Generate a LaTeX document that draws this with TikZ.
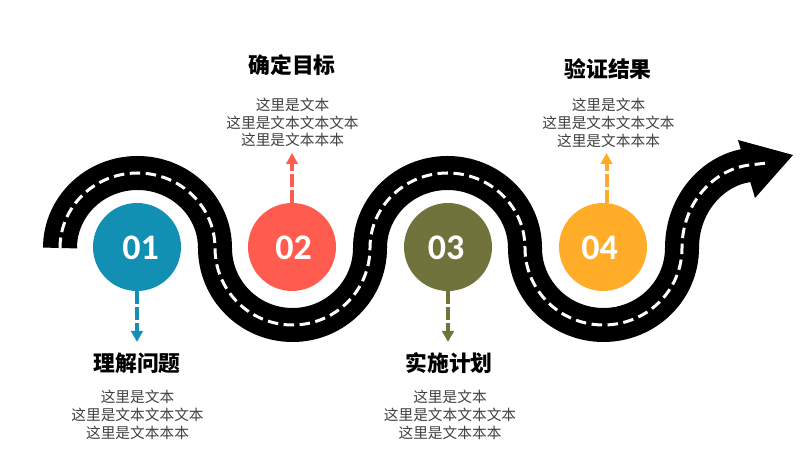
\documentclass[tikz,border=0pt]{standalone}
\usepackage{fontspec}
\setmainfont{Carlito}
\newfontfamily\cjk{Noto Sans CJK SC}
\usetikzlibrary{arrows.meta}
\definecolor{stepblue}{HTML}{1190B4}
\definecolor{stepred}{HTML}{FF5C50}
\definecolor{stepolive}{HTML}{70743C}
\definecolor{steporange}{HTML}{FFAC29}
\definecolor{bodygray}{HTML}{404040}

\begin{document}
\begin{tikzpicture}[x=1pt,y=1pt,
            >={Triangle[length=11pt,width=11.5pt]},
            disc/.style={circle,minimum size=88pt,inner sep=0pt},
            num/.style={inner sep=0pt,text=white,font=\fontsize{36}{36}\selectfont\bfseries},
            title/.style={inner sep=0pt,text=black,font=\cjk\fontsize{21.8}{26}\selectfont\bfseries},
            body/.style={inner sep=0pt,align=center,text=bodygray,font=\cjk\fontsize{14.7}{17.8}\selectfont},
            lead/.style={->,line width=4pt,dash pattern=on 12.5pt off 3.5pt},
        ]
        \useasboundingbox (0,0) rectangle (800,465);
        % road, centre line
        \def\roadpath{(60,217) arc[start angle=180,end angle=0,x radius=77.5,y radius=75]
            arc[start angle=180,end angle=360,x radius=77.5,y radius=77]
            arc[start angle=180,end angle=0,x radius=77.5,y radius=75]
            arc[start angle=180,end angle=360,x radius=78.5,y radius=77]
            .. controls (682,262) and (714,296) .. (750,300)}
        \draw[line width=34pt,black] \roadpath;
        \fill[black] (738,325) -- (793,310) -- (755,267) -- cycle;
        \draw[line width=3pt,white,dash pattern=on 10.5pt off 5.5pt] \roadpath -- (767,302);
        % discs
        \node[disc,fill=stepblue] (d1) at (137,218) {};
        \node[disc,fill=stepred] (d2) at (292,218) {};
        \node[disc,fill=stepolive] (d3) at (448,218) {};
        \node[disc,fill=steporange] (d4) at (603,218) {};
        \node[num] (n1) at (140.5,217) {01};
        \node[num] (n2) at (293.5,217) {02};
        \node[num] (n3) at (446,217) {03};
        \node[num] (n4) at (599.5,217) {04};
        % arrow ends
        \coordinate (e1) at (137,123);
        \coordinate (e2) at (292,312);
        \coordinate (e3) at (448,123);
        \coordinate (e4) at (606.5,312);
        \draw[lead,stepblue] (d1.south) -- (e1);
        \draw[lead,stepred] (d2.north) -- (e2);
        \draw[lead,stepolive] (d3.south) -- (e3);
        \draw[lead,steporange] (606.5,262) -- (e4);
        % texts
        \node[title] (t1) at (137,102) {理解问题};
        \node[title] (t2) at (292,400) {确定目标};
        \node[title] (t3) at (449,102) {实施计划};
        \node[title] (t4) at (608,396) {验证结果};
        \node[body] (b1) at (137.5,50) {这里是文本\\这里是文本文本文本\\这里是文本本本};
        \node[body] (b2) at (292.5,342.5) {这里是文本\\这里是文本文本文本\\这里是文本本本};
        \node[body] (b3) at (450,50) {这里是文本\\这里是文本文本文本\\这里是文本本本};
        \node[body] (b4) at (608.5,342) {这里是文本\\这里是文本文本文本\\这里是文本本本};
    \end{tikzpicture}
\end{document}
